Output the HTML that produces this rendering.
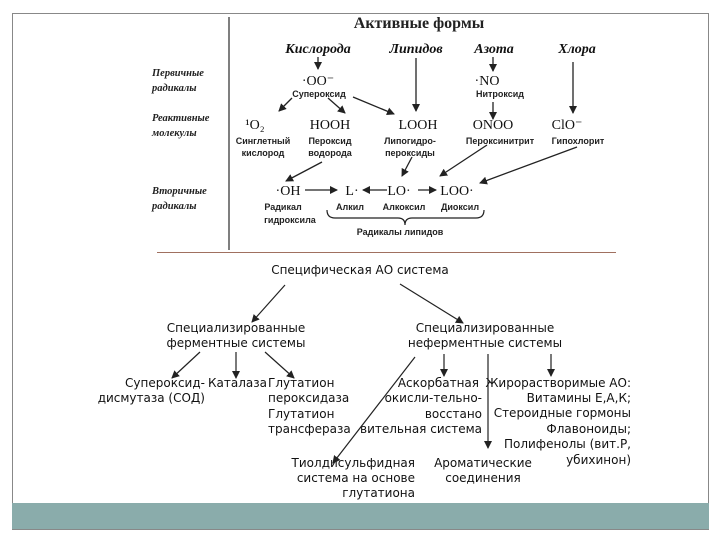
<!DOCTYPE html>
<html><head><meta charset="utf-8"><style>
html,body{margin:0;padding:0;background:#fff;}
svg{display:block}
.t{font-family:"Liberation Serif",serif;}
.s{font-family:"DejaVu Sans","Liberation Sans",sans-serif;font-size:12px;fill:#111}
.sm{font-family:"Liberation Sans",sans-serif;font-size:9px;font-weight:bold;fill:#222}
.it{font-family:"Liberation Serif",serif;font-style:italic;font-weight:bold;font-size:10.5px;fill:#222}
.h{font-family:"Liberation Serif",serif;font-style:italic;font-weight:bold;font-size:14px;fill:#111}
.m{font-family:"Liberation Serif",serif;font-size:14px;fill:#111}
</style></head><body>
<svg width="720" height="540" viewBox="0 0 720 540" xmlns="http://www.w3.org/2000/svg">
<defs><marker id="a" markerWidth="8" markerHeight="8" refX="7" refY="4" orient="auto" markerUnits="userSpaceOnUse"><path d="M0,0 L8,4 L0,8 z" fill="#222"/></marker></defs>
<rect x="12.5" y="13.5" width="696" height="516" fill="#fff" stroke="#888" stroke-width="1"/>
<rect x="12" y="503" width="697" height="26" fill="#8aacab"/>
<line x1="229" y1="17" x2="229" y2="250" stroke="#555" stroke-width="1.5"/>
<line x1="157" y1="252.5" x2="616" y2="252.5" stroke="#a07060" stroke-width="1"/>
<text x="419" y="28" text-anchor="middle" class="t" font-size="16" font-weight="bold" fill="#222">Активные формы</text>
<text x="318" y="53" text-anchor="middle" class="h">Кислорода</text>
<text x="416" y="53" text-anchor="middle" class="h">Липидов</text>
<text x="494" y="53" text-anchor="middle" class="h">Азота</text>
<text x="577" y="53" text-anchor="middle" class="h">Хлора</text>
<text x="152" y="76" class="it">Первичные</text><text x="152" y="91" class="it">радикалы</text>
<text x="152" y="121" class="it">Реактивные</text><text x="152" y="136" class="it">молекулы</text>
<text x="152" y="194" class="it">Вторичные</text><text x="152" y="209" class="it">радикалы</text>
<text x="318" y="85" text-anchor="middle" class="m">·OO⁻</text>
<text x="319" y="97" text-anchor="middle" class="sm">Супероксид</text>
<text x="487" y="85" text-anchor="middle" class="m">·NO</text>
<text x="500" y="97" text-anchor="middle" class="sm">Нитроксид</text>
<text x="255" y="129" text-anchor="middle" class="m">¹O₂</text>
<text x="330" y="129" text-anchor="middle" class="m">HOOH</text>
<text x="418" y="129" text-anchor="middle" class="m">LOOH</text>
<text x="493" y="129" text-anchor="middle" class="m">ONOO</text>
<text x="567" y="129" text-anchor="middle" class="m">ClO⁻</text>
<text x="263" y="144" text-anchor="middle" class="sm">Синглетный</text><text x="263" y="156" text-anchor="middle" class="sm">кислород</text>
<text x="330" y="144" text-anchor="middle" class="sm">Пероксид</text><text x="330" y="156" text-anchor="middle" class="sm">водорода</text>
<text x="410" y="144" text-anchor="middle" class="sm">Липогидро-</text><text x="410" y="156" text-anchor="middle" class="sm">пероксиды</text>
<text x="500" y="144" text-anchor="middle" class="sm">Пероксинитрит</text>
<text x="578" y="144" text-anchor="middle" class="sm">Гипохлорит</text>
<text x="288" y="195" text-anchor="middle" class="m">·OH</text>
<text x="352" y="195" text-anchor="middle" class="m">L·</text>
<text x="399" y="195" text-anchor="middle" class="m">LO·</text>
<text x="457" y="195" text-anchor="middle" class="m">LOO·</text>
<text x="283" y="210" text-anchor="middle" class="sm">Радикал</text><text x="290" y="223" text-anchor="middle" class="sm">гидроксила</text>
<text x="350" y="210" text-anchor="middle" class="sm">Алкил</text>
<text x="404" y="210" text-anchor="middle" class="sm">Алкоксил</text>
<text x="460" y="210" text-anchor="middle" class="sm">Диоксил</text>
<path d="M327,210 Q327,218 335,218 L398,218 Q405,218 405,225 Q405,218 412,218 L476,218 Q484,218 484,210" fill="none" stroke="#222" stroke-width="1.2"/>
<text x="400" y="235" text-anchor="middle" class="sm">Радикалы липидов</text>
<g stroke="#222" stroke-width="1.3" marker-end="url(#a)">
<line x1="318" y1="57" x2="318" y2="69"/>
<line x1="416" y1="58" x2="416" y2="111"/>
<line x1="493" y1="57" x2="493" y2="71"/>
<line x1="493" y1="102" x2="493" y2="119"/>
<line x1="573" y1="62" x2="573" y2="113"/>
<line x1="292" y1="98" x2="279" y2="111"/>
<line x1="328" y1="98" x2="345" y2="113"/>
<line x1="353" y1="97" x2="394" y2="114"/>
<line x1="322" y1="162" x2="286" y2="181"/>
<line x1="412" y1="157" x2="402" y2="176"/>
<line x1="487" y1="145" x2="440" y2="176"/>
<line x1="577" y1="147" x2="480" y2="183"/>
<line x1="305" y1="190" x2="337" y2="190"/>
<line x1="387" y1="190" x2="363" y2="190"/>
<line x1="418" y1="190" x2="436" y2="190"/>
</g>
<text x="360" y="274" text-anchor="middle" class="s" font-size="13">Специфическая АО система</text>
<text x="236" y="332" text-anchor="middle" class="s">Специализированные</text>
<text x="236" y="347" text-anchor="middle" class="s">ферментные системы</text>
<text x="485" y="332" text-anchor="middle" class="s">Специализированные</text>
<text x="485" y="347" text-anchor="middle" class="s">неферментные системы</text>
<text x="205" y="387" text-anchor="end" class="s">Супероксид-</text>
<text x="205" y="402" text-anchor="end" class="s">дисмутаза (СОД)</text>
<text x="208" y="387" class="s">Каталаза</text>
<text x="268" y="387" class="s">Глутатион</text>
<text x="268" y="402" class="s">пероксидаза</text>
<text x="268" y="418" class="s">Глутатион</text>
<text x="268" y="433" class="s">трансфераза</text>
<text x="479" y="387" text-anchor="end" class="s">Аскорбатная</text>
<text x="482" y="402" text-anchor="end" class="s">окисли-тельно-</text>
<text x="482" y="418" text-anchor="end" class="s">восстано</text>
<text x="482" y="433" text-anchor="end" class="s">вительная система</text>
<text x="631" y="387" text-anchor="end" class="s">Жирорастворимые АО:</text>
<text x="631" y="402" text-anchor="end" class="s">Витамины  Е,А,К;</text>
<text x="631" y="417" text-anchor="end" class="s" font-size="11">Стероидные гормоны</text>
<text x="631" y="433" text-anchor="end" class="s">Флавоноиды;</text>
<text x="631" y="448" text-anchor="end" class="s">Полифенолы (вит.Р,</text>
<text x="631" y="464" text-anchor="end" class="s">убихинон)</text>
<text x="415" y="467" text-anchor="end" class="s">Тиолдисульфидная</text>
<text x="415" y="482" text-anchor="end" class="s">система на основе</text>
<text x="415" y="497" text-anchor="end" class="s">глутатиона</text>
<text x="483" y="467" text-anchor="middle" class="s">Ароматические</text>
<text x="483" y="482" text-anchor="middle" class="s">соединения</text>
<g stroke="#222" stroke-width="1.2" marker-end="url(#a)">
<line x1="285" y1="285" x2="252" y2="322"/>
<line x1="400" y1="284" x2="463" y2="323"/>
<line x1="200" y1="352" x2="172" y2="378"/>
<line x1="236" y1="352" x2="236" y2="378"/>
<line x1="265" y1="352" x2="294" y2="378"/>
<line x1="415" y1="357" x2="333" y2="463"/>
<line x1="444" y1="354" x2="444" y2="376"/>
<line x1="488" y1="354" x2="488" y2="448"/>
<line x1="551" y1="354" x2="551" y2="376"/>
</g>
</svg>
</body></html>
